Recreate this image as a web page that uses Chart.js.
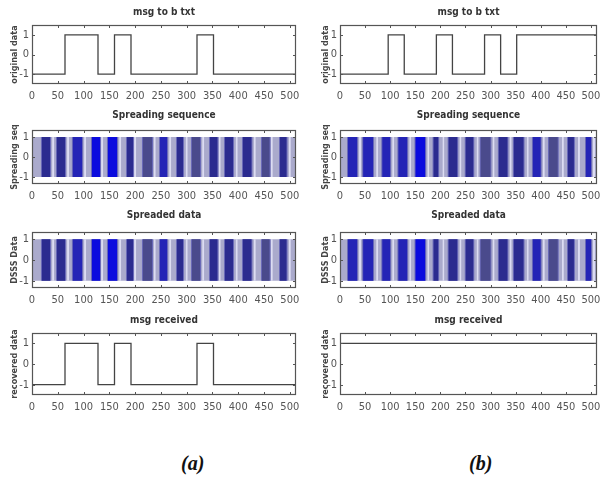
<!DOCTYPE html>
<html>
<head>
<meta charset="utf-8">
<script src="https://cdn.jsdelivr.net/npm/chart.js@4.4.1/dist/chart.umd.min.js"></script>
<style>
  body { margin: 0; background: #fff; }
  #wrap { position: relative; width: 600px; height: 480px; overflow: hidden; background: #fff; }
  #wrap canvas { position: absolute; }
  .cap { position: absolute; font-family: "Liberation Serif", "DejaVu Serif", serif; font-weight: bold; font-style: italic; font-size: 20px; color: #111; }
</style>
</head>
<body>
<div id="wrap">
  <div class="cap" style="left:181px; top:452px;">(a)</div>
  <div class="cap" style="left:469px; top:452px;">(b)</div>
</div>
<script>
// axis ticks
const xTicks = [0, 50, 100, 150, 200, 250, 300, 350, 400, 450, 500];
const yTicks = [-1, 0, 1];
const samplesPerBit = 32;

// message bits (one per 32 samples)
const msgBitsA  = [-1, -1, 1, 1, -1, 1, -1, -1, -1, -1, 1, -1, -1, -1, -1, -1];
const recvBitsA = [-1, -1, 1, 1, -1, 1, -1, -1, -1, -1, 1, -1, -1, -1, -1, -1];
const msgBitsB  = [-1, -1, -1, 1, -1, -1, 1, -1, -1, 1, -1, 1, 1, 1, 1, 1];
const recvBitsB = [1, 1, 1, 1, 1, 1, 1, 1, 1, 1, 1, 1, 1, 1, 1, 1];

// dense chip regions of the spreading code (sample index)
const chipStartA = [19, 48, 79, 116, 147, 184, 215, 248, 281, 310, 345, 374, 409, 446, 481];
const chipEndA   = [35, 64, 97, 132, 165, 196, 233, 262, 293, 326, 360, 390, 426, 461, 494];
const chipShadeA = [0, 0, 1, 2, 2, 0, 3, 1, 0, 3, 0, 0, 0, 3, 0];
const sparseA    = [41, 70, 103, 136, 171, 200, 238, 268, 300, 332, 364, 397, 432, 465, 500];

const chipStartB = [16, 46, 84, 116, 150, 186, 216, 250, 280, 316, 346, 384, 416, 454, 490];
const chipEndB   = [34, 66, 100, 134, 170, 196, 234, 266, 300, 334, 366, 400, 434, 466, 500];
const chipShadeB = [1, 1, 1, 1, 2, 0, 0, 0, 3, 0, 0, 1, 3, 0, 1];
const sparseB    = [40, 74, 106, 140, 176, 206, 240, 274, 306, 340, 374, 406, 444, 476, 506];

const FONT = '"Liberation Sans Narrow", "DejaVu Sans Condensed", "Arial Narrow", sans-serif';
const shadeColors = ['#2b2b8f', '#2424b6', '#0b0bde', '#4a4a8c'];

function stepPoints(bits) {
  const pts = bits.map((b, i) => ({x: i * samplesPerBit, y: b}));
  pts.push({x: bits.length * samplesPerBit, y: bits[bits.length - 1]});
  return pts;
}

function band(s, e, color, order) {
  return {
    data: [{x: s, y: 1}, {x: e, y: 1}],
    fill: {value: -1},
    backgroundColor: color,
    borderColor: 'transparent',
    borderWidth: 0,
    pointRadius: 0,
    order: order
  };
}

function stripeDatasets(starts, ends, shades, sparse) {
  const ds = [band(0, 512, '#aaaacc', 10)];
  sparse.forEach(c => ds.push(band(c - 2, c + 2, '#dcdcf2', 6)));
  starts.forEach((s, i) => {
    ds.push(band(s - 2, ends[i] + 2, '#6a6ab8', 5));
    ds.push(band(s, ends[i], shadeColors[shades[i]], 1));
  });
  return ds;
}

function lineDatasets(bits) {
  return [{
    data: stepPoints(bits),
    stepped: true,
    borderColor: '#444',
    borderWidth: 1.3,
    pointRadius: 0,
    fill: false
  }];
}

// box with inward tick marks, matlab style
const boxPlugin = {
  id: 'box',
  afterDatasetsDraw(chart) {
    const {ctx, chartArea: a, scales} = chart;
    ctx.save();
    ctx.strokeStyle = '#555';
    ctx.lineWidth = 1.2;
    ctx.strokeRect(a.left + 0.5, a.top + 0.5, a.right - a.left - 1, a.bottom - a.top - 1);
    ctx.lineWidth = 1;
    ctx.beginPath();
    xTicks.forEach(v => {
      const px = Math.round(scales.x.getPixelForValue(v)) + 0.5;
      ctx.moveTo(px, a.bottom); ctx.lineTo(px, a.bottom - 3);
      ctx.moveTo(px, a.top); ctx.lineTo(px, a.top + 3);
    });
    yTicks.forEach(v => {
      const py = Math.round(scales.y.getPixelForValue(v)) + 0.5;
      ctx.moveTo(a.left, py); ctx.lineTo(a.left + 3, py);
      ctx.moveTo(a.right, py); ctx.lineTo(a.right - 3, py);
    });
    ctx.stroke();
    ctx.restore();
  }
};

const cols = [
  {left: 0, width: 300, yWidth: 32, padRight: 4, yTitlePad: 9},
  {left: 300, width: 300, yWidth: 40, padRight: 3, yTitlePad: 20}
];
const rows = [
  {top: 0,   height: 106, tTop: 6,  tBottom: 7,  yMin: -1.5,  yMax: 1.5},
  {top: 100, height: 106, tTop: 9,  tBottom: 9,  yMin: -1.35, yMax: 1.35},
  {top: 200, height: 110, tTop: 9,  tBottom: 11, yMin: -1.35, yMax: 1.35},
  {top: 300, height: 117, tTop: 14, tBottom: 7,  yMin: -1.5,  yMax: 1.5}
];

const panels = [
  {col: 0, row: 0, title: 'msg to b txt', yLabel: 'original data', datasets: lineDatasets(msgBitsA)},
  {col: 1, row: 0, title: 'msg to b txt', yLabel: 'original data', datasets: lineDatasets(msgBitsB)},
  {col: 0, row: 1, title: 'Spreading sequence', yLabel: 'Spreading seq', datasets: stripeDatasets(chipStartA, chipEndA, chipShadeA, sparseA)},
  {col: 1, row: 1, title: 'Spreading sequence', yLabel: 'Spreading seq', datasets: stripeDatasets(chipStartB, chipEndB, chipShadeB, sparseB)},
  {col: 0, row: 2, title: 'Spreaded data', yLabel: 'DSSS Data', datasets: stripeDatasets(chipStartA, chipEndA, chipShadeA, sparseA)},
  {col: 1, row: 2, title: 'Spreaded data', yLabel: 'DSSS Data', datasets: stripeDatasets(chipStartB, chipEndB, chipShadeB, sparseB)},
  {col: 0, row: 3, title: 'msg received', yLabel: 'recovered data', datasets: lineDatasets(recvBitsA)},
  {col: 1, row: 3, title: 'msg received', yLabel: 'recovered data', datasets: lineDatasets(recvBitsB)}
];

const wrap = document.getElementById('wrap');

panels.forEach(p => {
  const c = cols[p.col], r = rows[p.row];
  const canvas = document.createElement('canvas');
  canvas.width = c.width;
  canvas.height = r.height;
  canvas.style.left = c.left + 'px';
  canvas.style.top = r.top + 'px';
  canvas.style.width = c.width + 'px';
  canvas.style.height = r.height + 'px';
  wrap.appendChild(canvas);

  new Chart(canvas.getContext('2d'), {
    type: 'line',
    data: {datasets: p.datasets},
    plugins: [boxPlugin],
    options: {
      responsive: false,
      maintainAspectRatio: false,
      animation: false,
      layout: {padding: {left: 0, right: c.padRight, top: 0, bottom: 0}},
      plugins: {
        legend: {display: false},
        tooltip: {enabled: false},
        title: {
          display: true,
          fullSize: false,
          text: p.title,
          color: '#333',
          font: {family: FONT, size: 10, weight: 'bold'},
          padding: {top: r.tTop, bottom: r.tBottom}
        }
      },
      scales: {
        x: {
          type: 'linear', min: 0, max: 512,
          grid: {display: false, drawTicks: false},
          border: {display: false},
          afterBuildTicks: s => { s.ticks = xTicks.map(v => ({value: v})); },
          afterFit: s => { s.height = 22; s.paddingLeft = 0; s.paddingRight = 0; },
          ticks: {padding: 6, color: '#555', autoSkip: false, maxRotation: 0, font: {family: FONT, size: 11}}
        },
        y: {
          type: 'linear', min: r.yMin, max: r.yMax,
          grid: {display: false, drawTicks: false},
          border: {display: false},
          afterBuildTicks: s => { s.ticks = yTicks.map(v => ({value: v})); },
          afterFit: s => { s.width = c.yWidth; s.paddingTop = 0; s.paddingBottom = 0; },
          ticks: {padding: 3, color: '#555', font: {family: FONT, size: 11}},
          title: {
            display: true, text: p.yLabel, color: '#444',
            font: {family: FONT, size: 9, weight: 'bold'},
            padding: {top: c.yTitlePad, bottom: 0}
          }
        }
      }
    }
  });
});
</script>
</body>
</html>
